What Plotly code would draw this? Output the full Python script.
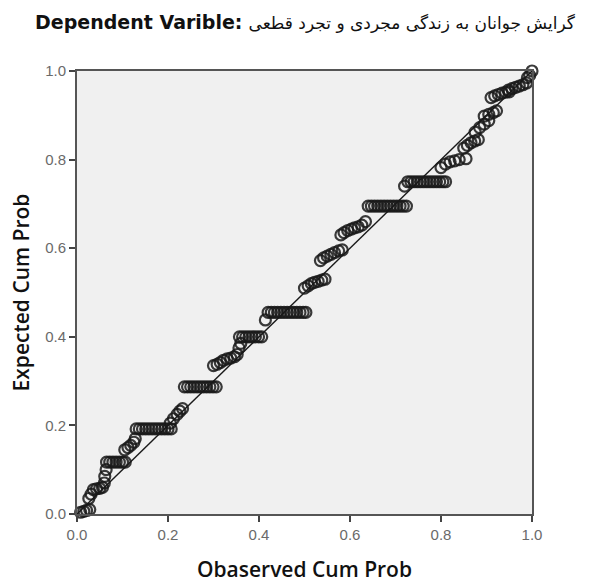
import plotly.graph_objects as go

# Observed cumulative probability (x) and expected cumulative probability (y)
observed_cum_prob = [
    0.008, 0.015, 0.021, 0.028,
    0.026, 0.031, 0.036, 0.043, 0.050, 0.056, 0.060, 0.061, 0.064,
    0.065, 0.072, 0.079, 0.086, 0.093, 0.100, 0.106,
    0.105, 0.112, 0.118, 0.125, 0.128,
    0.130, 0.137, 0.144, 0.151, 0.158, 0.165, 0.172, 0.179, 0.186, 0.193, 0.200, 0.207,
    0.205, 0.212, 0.220, 0.226, 0.232,
    0.236, 0.243, 0.250, 0.257, 0.264, 0.271, 0.278, 0.285, 0.292, 0.299, 0.306,
    0.300, 0.308, 0.315, 0.322, 0.330, 0.338, 0.346, 0.352, 0.356, 0.360,
    0.357, 0.364, 0.371, 0.378, 0.385, 0.392, 0.399, 0.406,
    0.414, 0.420, 0.427, 0.434, 0.441, 0.448, 0.455, 0.462, 0.469, 0.476, 0.483, 0.490, 0.497, 0.503,
    0.500, 0.508, 0.515, 0.522, 0.530, 0.538, 0.545,
    0.535, 0.542, 0.550, 0.558, 0.566, 0.575, 0.583,
    0.580, 0.587, 0.595, 0.603, 0.610, 0.618, 0.626, 0.634,
    0.640, 0.647, 0.654, 0.661, 0.668, 0.675, 0.682, 0.689, 0.696, 0.703, 0.710, 0.717, 0.724,
    0.720, 0.727, 0.734, 0.741, 0.748, 0.755, 0.762, 0.769, 0.776, 0.783, 0.790, 0.797, 0.804, 0.810,
    0.800, 0.810, 0.820, 0.830, 0.840, 0.855,
    0.850, 0.858, 0.866, 0.874, 0.882,
    0.875, 0.885, 0.895, 0.905,
    0.895, 0.905, 0.915, 0.922,
    0.910, 0.918, 0.926, 0.934, 0.942, 0.950,
    0.948, 0.956, 0.964, 0.972, 0.980, 0.988,
    0.990, 0.995, 1.000,
]

expected_cum_prob = [
    0.004, 0.006, 0.008, 0.010,
    0.035, 0.045, 0.055, 0.057, 0.058, 0.060, 0.070, 0.085, 0.100,
    0.117, 0.117, 0.117, 0.117, 0.117, 0.117, 0.117,
    0.145, 0.150, 0.155, 0.162, 0.170,
    0.192, 0.192, 0.192, 0.192, 0.192, 0.192, 0.192, 0.192, 0.192, 0.192, 0.192, 0.192,
    0.205, 0.215, 0.225, 0.232, 0.238,
    0.287, 0.287, 0.287, 0.287, 0.287, 0.287, 0.287, 0.287, 0.287, 0.287, 0.287,
    0.335, 0.338, 0.342, 0.347, 0.350, 0.352, 0.355, 0.360, 0.375, 0.385,
    0.400, 0.400, 0.400, 0.400, 0.400, 0.400, 0.400, 0.400,
    0.438, 0.455, 0.455, 0.455, 0.455, 0.455, 0.455, 0.455, 0.455, 0.455, 0.455, 0.455, 0.455, 0.455,
    0.510, 0.515, 0.520, 0.523, 0.525, 0.528, 0.530,
    0.572, 0.578, 0.582, 0.586, 0.590, 0.594, 0.596,
    0.630, 0.635, 0.640, 0.643, 0.646, 0.648, 0.652, 0.660,
    0.695, 0.695, 0.695, 0.695, 0.695, 0.695, 0.695, 0.695, 0.695, 0.695, 0.695, 0.695, 0.695,
    0.740, 0.750, 0.750, 0.750, 0.750, 0.750, 0.750, 0.750, 0.750, 0.750, 0.750, 0.750, 0.750, 0.750,
    0.782, 0.790, 0.795, 0.797, 0.800, 0.802,
    0.826, 0.832, 0.838, 0.842, 0.845,
    0.862, 0.872, 0.880, 0.888,
    0.898, 0.902, 0.906, 0.910,
    0.940, 0.944, 0.947, 0.950, 0.952, 0.953,
    0.957, 0.960, 0.963, 0.966, 0.969, 0.973,
    0.985, 0.990, 1.000,
]

reference_line = [0.0, 1.0]
tick_values = [0.0, 0.2, 0.4, 0.6, 0.8, 1.0]
tick_labels = ["0.0", "0.2", "0.4", "0.6", "0.8", "1.0"]

title_latin = "Dependent Varible:"
title_persian = "گرایش جوانان به زندگی مجردی و تجرد قطعی"
x_title = "Obaserved Cum Prob"
y_title = "Expected Cum Prob"

fig = go.Figure()

fig.add_trace(go.Scatter(
    x=reference_line, y=reference_line, mode="lines",
    line=dict(color="#1a1a1a", width=1.4), hoverinfo="skip", showlegend=False,
))

fig.add_trace(go.Scatter(
    x=observed_cum_prob, y=expected_cum_prob, mode="markers",
    marker=dict(symbol="circle-open", size=11, color="rgba(25,25,25,0.85)",
                line=dict(width=2.2)),
    showlegend=False, cliponaxis=False,
))

axis_common = dict(
    range=[0, 1], tickvals=tick_values, ticktext=tick_labels,
    showgrid=False, zeroline=False, automargin=False,
    showline=True, linecolor="#555555", linewidth=1.8, mirror=True,
    ticks="outside", ticklen=6, tickwidth=1.8, tickcolor="#444444",
    tickfont=dict(family="Liberation Sans, Arial", size=15, color="#6a6a6a"),
)

fig.update_layout(
    width=595, height=583,
    margin=dict(l=77, r=63, t=71, b=69),
    paper_bgcolor="white", plot_bgcolor="#f0f0f0",
    title=dict(
        text=f"<b>{title_latin}</b> <span style='font-size:17px'>{title_persian}</span>",
        x=0.059, xanchor="left", y=0.962, yanchor="middle",
        font=dict(family="DejaVu Sans", size=19, color="#111111"),
    ),
    xaxis=dict(**axis_common, title=dict(text=x_title, standoff=22,
               font=dict(family="Open Sans", size=21, color="#111111", weight=600))),
    yaxis=dict(**axis_common, title=dict(text=y_title, standoff=10,
               font=dict(family="Open Sans", size=21, color="#111111", weight=600))),
)

fig.write_html("out.html", config={"displayModeBar": False},
               post_script="document.body.style.margin='0px';")
